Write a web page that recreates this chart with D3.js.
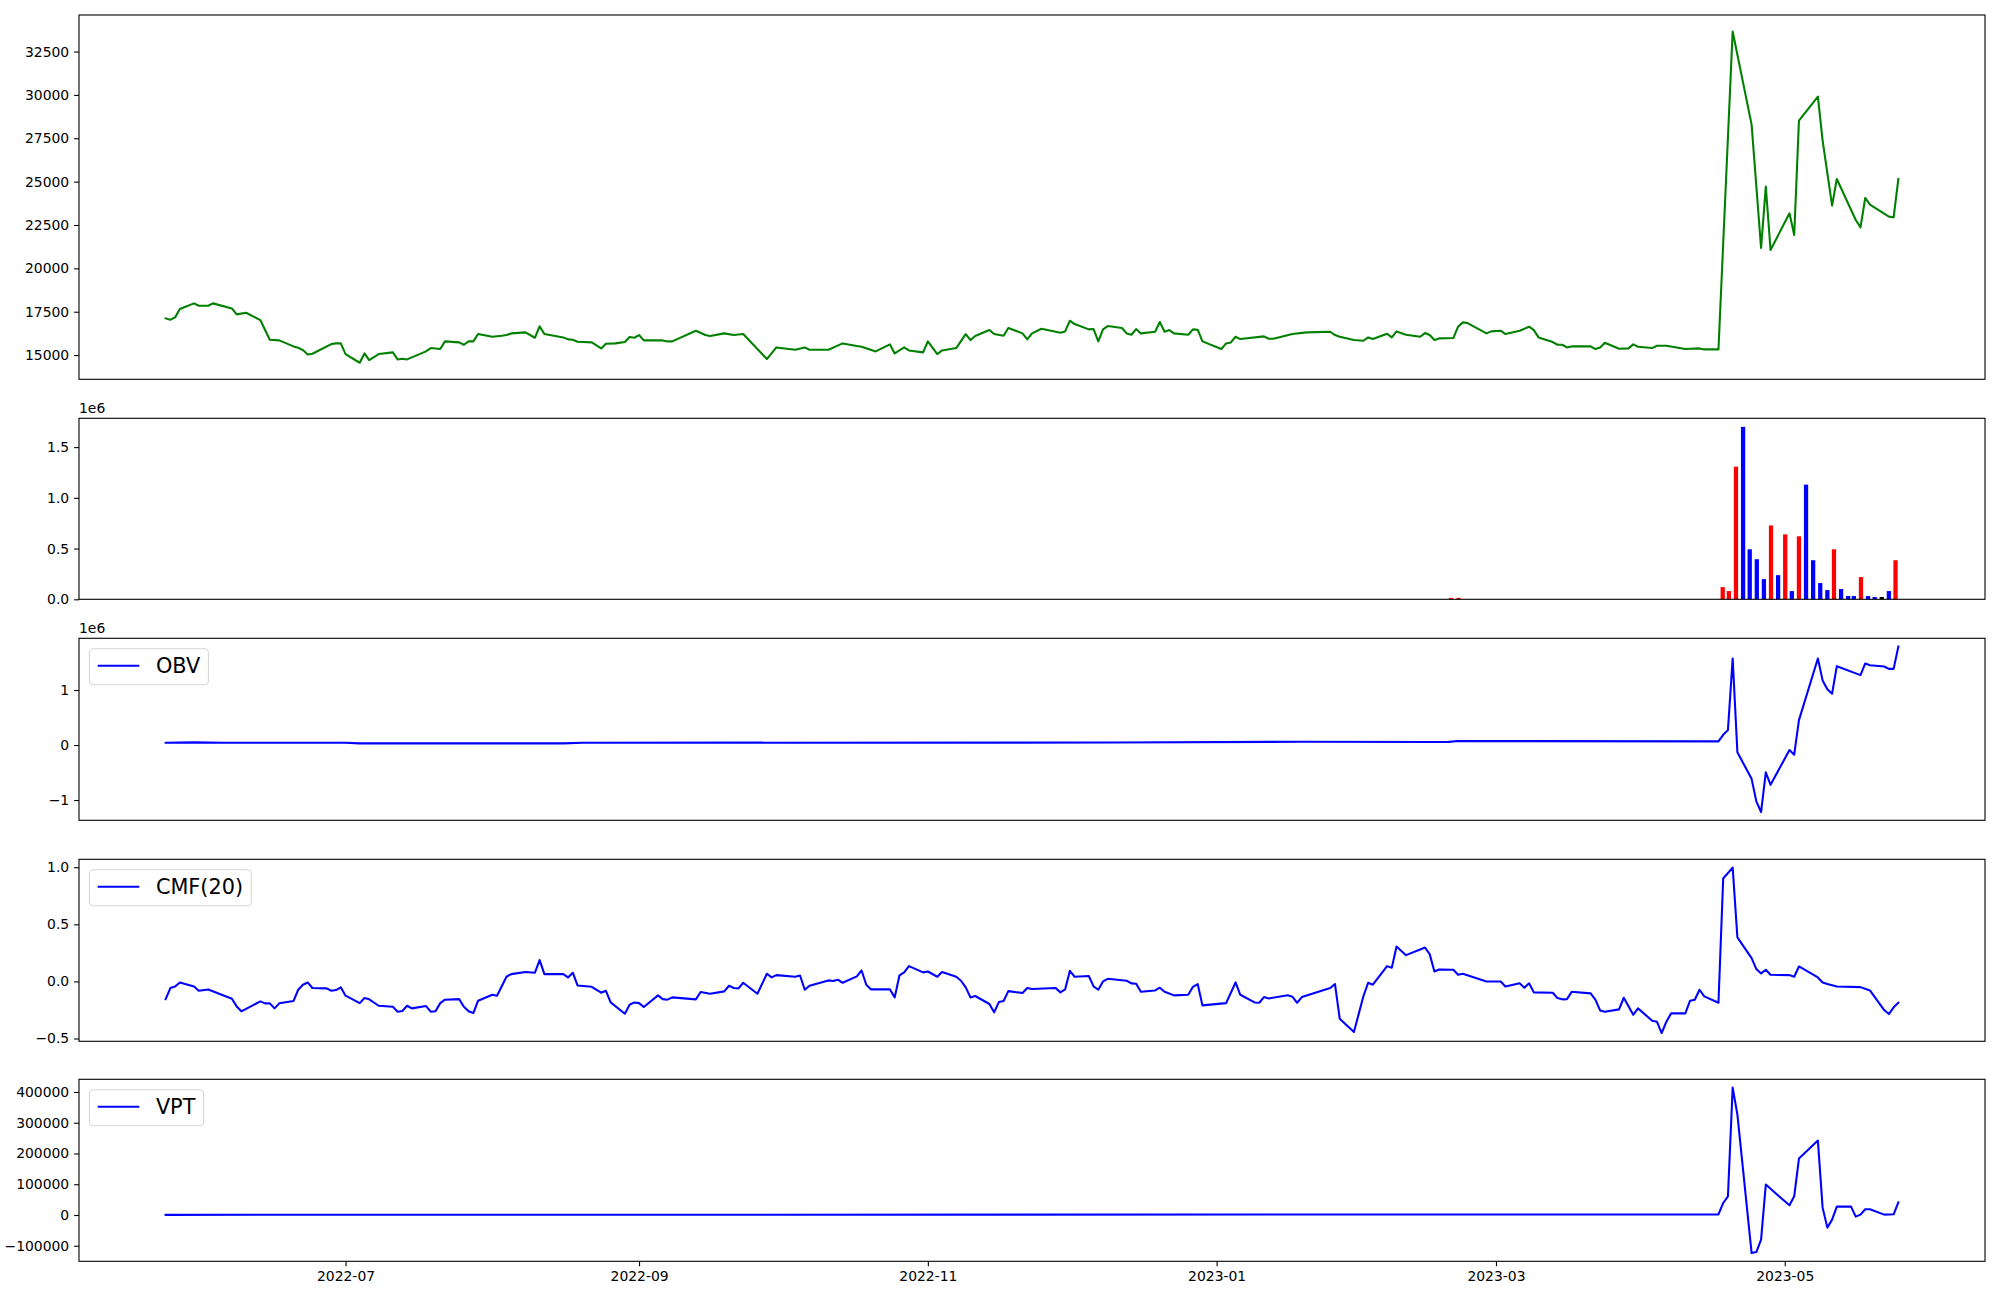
<!DOCTYPE html>
<html><head><meta charset="utf-8">
<script src="https://cdn.jsdelivr.net/npm/d3@7"></script>
<style>
html,body{margin:0;padding:0;background:#fff;}
svg{display:block;font-family:"DejaVu Sans",sans-serif;}
</style></head><body>
<svg id="chart" width="2000" height="1300"></svg>
<script>
// ---------------- DATA (days counted from START_DATE) ----------------
const START_DATE = "2022-05-24";

const priceDay = [0,1,2,3,6,7,9,10,14,15,17,20,22,24,27,28,29,30,31,35,36,37,38,41,42,43,45,48,49,50,51,55,56,58,59,62,63,64,65,66,69,71,72,73,76,78,79,80,84,85,86,87,90,92,93,95,97,98,99,100,101,105,106,107,
112,114,115,118,120,122,127,129,133,135,136,140,143,146,147,150,153,154,156,157,160,161,163,164,167,169,170,171,174,175,177,178,181,182,183,185,189,190,191,192,195,196,197,198,199,202,203,204,205,206,209,210,211,212,213,216,217,218,219,223,224,225,226,227,232,233,234,238,
241,246,247,248,251,253,254,255,258,259,260,262,265,266,267,268,269,272,273,274,275,279,280,282,283,286,288,289,290,293,294,295,296,297,301,302,303,304,307,309,310,311,314,315,317,321,324,325,328,331,335,337,338,339,343,344,345,349,350,352,353,357,358,359,360,364,365,366];
const priceClose = [17115,17038,17173,17654,17981,17846,17846,17981,17692,17346,17442,17019,15885,15846,15500,15423,15288,15038,15077,15635,15673,15673,15058,14558,15096,14712,15058,15154,14750,14788,14750,15212,15404,15346,15788,15731,15596,15788,15788,16212,16058,16115,16154,16250,16308,16000,16654,16212,16019,15904,15885,15769,15731,15385,15654,15673,15750,16038,16000,16154,15846,15846,15788,15788,
16404,16154,16096,16250,16154,16212,14769,15442,15308,15442,15308,15308,15673,15519,15481,15212,15615,15096,15442,15269,15154,15788,15058,15269,15404,16212,15865,16096,16442,16212,16115,16558,16250,15904,16250,16519,16288,16365,16981,16788,16481,16500,15788,16481,16673,16558,16250,16173,16500,16250,16346,16904,16346,16442,16250,16173,16481,16462,15788,15346,15673,15731,16058,15923,16077,15942,15942,16212,
16308,16346,16154,16058,15865,15827,16019,15923,16231,16019,16365,16173,16058,16269,16154,15865,15961,15981,16635,16885,16846,16250,16365,16404,16212,16404,16635,16442,16019,15750,15596,15596,15442,15500,15500,15346,15442,15711,15365,15385,15615,15481,15404,15538,15538,15346,15385,15327,15327,33653,28288,21173,24711,21058,23173,21923,28519,29904,27365,23615,25154,22788,22365,24058,23673,22981,22942,25154];

const volumeDay = [271.5,273.1,328.9,330.2,331.7,333.2,334.6,336.1,337.6,339.1,340.6,342.1,343.5,345.0,346.5,348.0,349.5,351.0,352.4,353.9,355.4,356.6,358.1,359.6,361.0,362.5,364.0,365.4];
const volume = [14000,14000,120000,81000,1307000,1699000,493000,395000,199000,728000,238000,640000,81000,621000,1130000,385000,160000,91000,493000,101000,32000,32000,219000,32000,23000,23000,81000,385000];
const volumeDirection = ["up","up","up","up","up","down","down","down","down","up","down","up","down","up","down","down","down","down","up","down","down","down","up","down","down","flat","down","up"];

const obvDay = [0,6,12,38,41,84,88,200,240,268,271,273,328,329,330,331,332,335,336,337,338,339,343,344,345,349,350,351,352,353,358,359,360,363,364,365,366];
const obvValue = [42000,48000,42000,40000,30000,30000,42000,45000,60000,55000,58000,72000,66000,186000,271000,1573000,-133000,-615000,-1025000,-1218000,-495000,-724000,-91000,-176000,452000,1573000,1175000,1013000,933000,1434000,1271000,1483000,1452000,1428000,1385000,1385000,1790000];

const cmfDay = [0,1,2,3,6,7,9,14,15,16,20,21,22,23,24,27,28,29,30,31,34,35,36,37,38,41,42,43,45,48,49,50,51,52,55,56,57,58,59,62,63,64,65,66,69,70,72,73,76,78,79,80,84,85,86,87,90,92,93,94,97,98,99,100,101,
104,105,106,107,112,113,115,118,119,120,121,122,125,127,128,129,133,134,135,136,140,141,142,143,146,147,148,149,153,154,155,156,157,160,161,163,164,167,168,169,170,171,174,175,176,177,178,181,182,183,188,189,190,191,192,195,196,197,198,199,203,204,205,206,209,210,211,213,216,217,218,219,224,226,227,230,231,232,233,237,238,239,240,
246,247,248,251,253,254,255,258,259,260,262,265,266,267,268,269,272,273,274,279,282,283,286,287,288,289,293,294,295,296,297,301,302,303,304,307,308,310,311,314,315,316,317,318,321,322,323,324,325,328,329,331,332,335,336,337,338,339,343,344,345,349,350,351,353,358,360,363,364,365,366];
const cmfValue = [-0.155,-0.058,-0.044,-0.009,-0.044,-0.082,-0.07,-0.152,-0.219,-0.262,-0.175,-0.192,-0.192,-0.236,-0.192,-0.172,-0.073,-0.029,-0.009,-0.058,-0.061,-0.082,-0.076,-0.052,-0.125,-0.19,-0.146,-0.157,-0.213,-0.222,-0.265,-0.259,-0.213,-0.236,-0.216,-0.265,-0.262,-0.19,-0.16,-0.155,-0.222,-0.262,-0.277,-0.169,-0.117,-0.125,0.041,0.064,0.082,0.076,0.187,0.064,0.064,0.035,0.076,-0.035,-0.047,-0.099,-0.082,-0.184,-0.283,-0.204,-0.184,-0.19,-0.224,
-0.122,-0.155,-0.16,-0.14,-0.157,-0.093,-0.108,-0.087,-0.038,-0.058,-0.061,-0.012,-0.108,0.067,0.035,0.055,0.041,0.052,-0.073,-0.038,0.009,0.003,0.015,-0.012,0.044,0.096,-0.029,-0.07,-0.07,-0.14,0.052,0.079,0.134,0.079,0.087,0.041,0.082,0.041,0.006,-0.052,-0.14,-0.128,-0.198,-0.271,-0.181,-0.172,-0.085,-0.102,-0.058,-0.067,-0.058,-0.096,-0.07,0.093,0.041,0.047,-0.044,-0.073,0,0.023,0.006,-0.017,-0.02,-0.09,-0.079,-0.055,-0.09,-0.122,-0.117,-0.047,-0.023,-0.21,-0.19,-0.009,-0.117,-0.184,-0.187,-0.137,-0.149,-0.122,-0.134,-0.187,-0.137,
-0.058,-0.023,-0.327,-0.443,-0.13,-0.012,-0.029,0.134,0.12,0.306,0.23,0.28,0.297,0.239,0.087,0.105,0.102,0.058,0.067,0,0,-0.044,-0.017,-0.055,-0.017,-0.096,-0.099,-0.146,-0.157,-0.155,-0.09,-0.105,-0.16,-0.254,-0.265,-0.245,-0.143,-0.292,-0.236,-0.344,-0.353,-0.452,-0.353,-0.28,-0.28,-0.169,-0.16,-0.073,-0.131,-0.187,0.901,0.997,0.385,0.204,0.108,0.07,0.102,0.058,0.055,0.041,0.131,0.035,-0.009,-0.023,-0.044,-0.05,-0.079,-0.251,-0.286,-0.227,-0.187];

const vptDay = [0,328,329,330,331,332,335,336,337,338,343,344,345,349,350,351,352,353,356,357,358,359,360,363,365,366];
const vptValue = [500,2000,39000,60800,414300,326500,-123600,-120300,-80000,98900,31500,60800,183400,241900,24000,-41000,-15000,27300,27300,-5200,1300,18500,18500,1300,2300,41300];

// tick values and labels
const xTickDates = ["2022-07-01","2022-09-01","2022-11-01","2023-01-01","2023-03-01","2023-05-01"];
const priceTicks = [15000,17500,20000,22500,25000,27500,30000,32500];
const priceTickLabels = ["15000","17500","20000","22500","25000","27500","30000","32500"];
const volumeTicks = [0,500000,1000000,1500000];
const volumeTickLabels = ["0.0","0.5","1.0","1.5"];
const obvTicks = [-1000000,0,1000000];
const obvTickLabels = ["\u22121","0","1"];
const cmfTicks = [-0.5,0,0.5,1.0];
const cmfTickLabels = ["\u22120.5","0.0","0.5","1.0"];
const vptTicks = [-100000,0,100000,200000,300000,400000];
const vptTickLabels = ["\u2212100000","0","100000","200000","300000","400000"];
const legendLabels = {obv:"OBV", cmf:"CMF(20)", vpt:"VPT"};
const offsetLabel = "1e6";

// ---------------- LAYOUT ----------------
const svg = d3.select("#chart");
const L = 79, R = 1985;
const panels = {
  price: {top:15, bottom:379.3},
  vol:   {top:418.3, bottom:599.3},
  obv:   {top:638.3, bottom:820.3},
  cmf:   {top:859.3, bottom:1041.3},
  vpt:   {top:1079.3, bottom:1261.3}
};
const FS = 13.9, LFS = 20.8;
const base = Date.parse(START_DATE + "T00:00:00Z");
const toDate = d => new Date(base + d*86400000);

const allDays = priceDay;
const dMin = d3.min(allDays), dMax = d3.max(allDays), dPad = 0.05*(dMax-dMin);
const x = d3.scaleUtc().domain([toDate(dMin-dPad), toDate(dMax+dPad)]).range([L, R]);

function padExt(vals){
  const [a,b] = d3.extent(vals); const p = 0.05*(b-a); return [a-p, b+p];
}

function drawYAxis(y, ticks, labels){
  const g = svg.append("g").attr("transform", `translate(${L},0)`)
    .call(d3.axisLeft(y).tickValues(ticks).tickFormat((d,i)=>labels[i]).tickSize(4.9).tickPadding(4.9).tickSizeOuter(0));
  g.select(".domain").remove();
  g.selectAll(".tick line").attr("stroke","#000").attr("stroke-width",1.1);
  g.selectAll(".tick text").attr("fill","#000").style("font-size",FS+"px").style("font-family","DejaVu Sans");
}
function frame(p){
  svg.append("rect").attr("x",L).attr("y",p.top).attr("width",R-L).attr("height",p.bottom-p.top)
    .attr("fill","none").attr("stroke","#000").attr("stroke-width",1.1);
}
function drawLine(days, vals, y, color){
  const line = d3.line().x((d,i)=>x(toDate(days[i]))).y((d,i)=>y(vals[i]));
  svg.append("path").datum(vals).attr("d", line).attr("fill","none").attr("stroke",color)
    .attr("stroke-width",2.08).attr("stroke-linejoin","round").attr("stroke-linecap","square");
}
function legend(p, label){
  const g = svg.append("g");
  const bx = L + 10.4, by = p.top + 10.4;
  const t = g.append("text").attr("x", bx + 8.3 + 41.6 + 16.6).attr("y", by + 24)
    .style("font-size", LFS+"px").style("font-family","DejaVu Sans").attr("fill","#000").text(label);
  const tw = t.node().getComputedTextLength();
  g.insert("rect","text").attr("x",bx).attr("y",by).attr("width", 8.3+41.6+16.6+tw+8.3).attr("height",36)
    .attr("rx",4).attr("ry",4).attr("fill","rgba(255,255,255,0.8)").attr("stroke","#d6d6d6").attr("stroke-width",1.1);
  g.insert("line","text").attr("x1",bx+8.3).attr("x2",bx+8.3+41.6).attr("y1",by+17).attr("y2",by+17)
    .attr("stroke","#0000ff").attr("stroke-width",2.08);
}
function offsetText(p){
  svg.append("text").attr("x",L).attr("y",p.top-5.4).style("font-size",FS+"px").style("font-family","DejaVu Sans")
    .attr("fill","#000").text(offsetLabel);
}

// ---- price ----
{
  const p = panels.price;
  const y = d3.scaleLinear().domain(padExt(priceClose)).range([p.bottom, p.top]);
  drawLine(priceDay, priceClose, y, "#008000");
  drawYAxis(y, priceTicks, priceTickLabels);
  frame(p);
}
// ---- volume ----
{
  const p = panels.vol;
  const y = d3.scaleLinear().domain([0, d3.max(volume)*1.05]).range([p.bottom, p.top]);
  const colorOf = {up:"#ff0000", down:"#0000ff", flat:"#000000"};
  svg.append("g").selectAll("rect").data(volume).join("rect")
    .attr("x",(d,i)=>x(toDate(volumeDay[i]-0.45)))
    .attr("width",(d,i)=>x(toDate(volumeDay[i]+0.45))-x(toDate(volumeDay[i]-0.45)))
    .attr("y",d=>y(d)).attr("height",d=>y(0)-y(d))
    .attr("fill",(d,i)=>colorOf[volumeDirection[i]]);
  drawYAxis(y, volumeTicks, volumeTickLabels);
  frame(p);
  offsetText(p);
}
// ---- OBV ----
{
  const p = panels.obv;
  const y = d3.scaleLinear().domain(padExt(obvValue)).range([p.bottom, p.top]);
  drawLine(obvDay, obvValue, y, "#0000ff");
  drawYAxis(y, obvTicks, obvTickLabels);
  frame(p);
  offsetText(p);
  legend(p, legendLabels.obv);
}
// ---- CMF ----
{
  const p = panels.cmf;
  const y = d3.scaleLinear().domain(padExt(cmfValue)).range([p.bottom, p.top]);
  drawLine(cmfDay, cmfValue, y, "#0000ff");
  drawYAxis(y, cmfTicks, cmfTickLabels);
  frame(p);
  legend(p, legendLabels.cmf);
}
// ---- VPT ----
{
  const p = panels.vpt;
  const y = d3.scaleLinear().domain(padExt(vptValue)).range([p.bottom, p.top]);
  drawLine(vptDay, vptValue, y, "#0000ff");
  drawYAxis(y, vptTicks, vptTickLabels);
  frame(p);
  legend(p, legendLabels.vpt);
  const fmt = d3.utcFormat("%Y-%m");
  const g = svg.append("g").attr("transform",`translate(0,${p.bottom})`)
    .call(d3.axisBottom(x).tickValues(xTickDates.map(s=>new Date(s+"T00:00:00Z"))).tickFormat(fmt).tickSize(4.9).tickPadding(4.9).tickSizeOuter(0));
  g.select(".domain").remove();
  g.selectAll(".tick line").attr("stroke","#000").attr("stroke-width",1.1);
  g.selectAll(".tick text").attr("fill","#000").style("font-size",FS+"px").style("font-family","DejaVu Sans");
}
</script>
</body></html>
